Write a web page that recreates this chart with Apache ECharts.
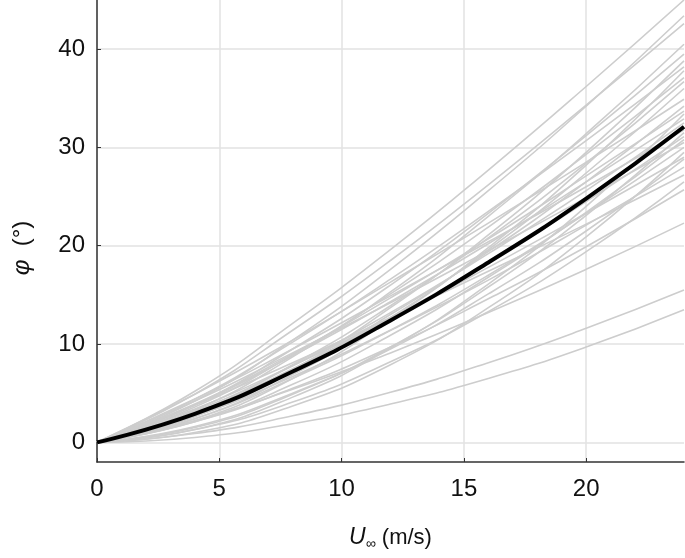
<!DOCTYPE html>
<html>
<head>
<meta charset="utf-8">
<script src="https://cdn.jsdelivr.net/npm/echarts@6/dist/echarts.min.js"></script>
<style>html,body{margin:0;padding:0;background:#fff}#c{width:685px;height:558px}</style>
</head>
<body>
<div id="c"></div>
<script>
// sample wind speeds (m/s)
const xs = [0, 4, 8, 12, 16, 20, 24];
// individual (grey) curves, phi in degrees at xs
const grey01 = [0, 5.2, 12.1, 19.6, 27.7, 36.2, 45.0];
const grey02 = [0, 4.2, 10.4, 17.6, 25.6, 34.2, 43.4];
const grey03 = [0, 4.9, 11.4, 18.5, 26.2, 34.3, 42.6];
const grey04 = [0, 3.3, 8.7, 15.3, 23.0, 31.4, 40.5];
const grey05 = [0, 3.8, 9.5, 16.0, 23.3, 31.2, 39.5];
const grey06 = [0, 2.6, 7.4, 13.7, 21.1, 29.5, 38.8];
const grey07 = [0, 4.4, 10.2, 16.6, 23.5, 30.7, 38.2];
const grey08 = [0, 2.2, 6.5, 12.5, 19.8, 28.2, 37.8];
const grey09 = [0, 3.6, 8.9, 15.1, 21.9, 29.3, 37.1];
const grey10 = [0, 3.0, 7.9, 13.9, 20.8, 28.4, 36.7];
const grey11 = [0, 2.4, 6.9, 12.7, 19.6, 27.4, 36.0];
const grey12 = [0, 4.9, 10.4, 16.3, 22.3, 28.5, 34.9];
const grey13 = [0, 2.8, 7.4, 13.0, 19.4, 26.5, 34.2];
const grey14 = [0, 3.9, 9.0, 14.7, 20.7, 27.1, 33.7];
const grey15 = [0, 1.3, 4.6, 9.6, 16.1, 24.0, 33.4];
const grey16 = [0, 3.8, 8.8, 14.3, 20.2, 26.5, 32.9];
const grey17 = [0, 3.2, 7.8, 13.2, 19.2, 25.6, 32.5];
const grey18 = [0, 4.4, 9.5, 14.9, 20.4, 26.0, 31.8];
const grey19 = [0, 1.5, 4.9, 9.7, 15.8, 23.1, 31.5];
const grey20 = [0, 3.0, 7.5, 12.6, 18.3, 24.5, 31.1];
const grey21 = [0, 2.1, 5.9, 10.9, 16.8, 23.4, 30.8];
const grey22 = [0, 4.2, 9.1, 14.2, 19.5, 24.9, 30.5];
const grey23 = [0, 2.4, 6.5, 11.4, 17.0, 23.3, 30.0];
const grey24 = [0, 1.0, 3.7, 7.9, 13.7, 20.9, 29.5];
const grey25 = [0, 3.4, 7.8, 12.6, 17.8, 23.3, 29.0];
const grey26 = [0, 1.6, 5.0, 9.5, 15.1, 21.5, 28.8];
const grey27 = [0, 2.7, 6.7, 11.4, 16.5, 22.1, 28.0];
const grey28 = [0, 3.8, 8.1, 12.7, 17.4, 22.2, 27.2];
const grey29 = [0, 1.3, 4.1, 8.2, 13.3, 19.4, 26.5];
const grey30 = [0, 2.1, 5.5, 9.7, 14.6, 19.9, 25.7];
const grey31 = [0, 2.2, 5.4, 9.1, 13.2, 17.6, 22.3];
const grey32 = [0, 0.9, 2.7, 5.1, 8.1, 11.6, 15.5];
const grey33 = [0, 0.5, 1.9, 3.9, 6.5, 9.7, 13.5];
// mean (black) curve
const meanCurve = [0, 2.9, 7.2, 12.4, 18.3, 24.8, 32.1];
// tick labels
const xTicks = [0, 5, 10, 15, 20];
const yTicks = [0, 10, 20, 30, 40];

const greyCurves = [grey01, grey02, grey03, grey04, grey05, grey06, grey07, grey08, grey09, grey10,
  grey11, grey12, grey13, grey14, grey15, grey16, grey17, grey18, grey19, grey20,
  grey21, grey22, grey23, grey24, grey25, grey26, grey27, grey28, grey29, grey30,
  grey31, grey32, grey33];

const pairs = arr => arr.map((v, i) => [xs[i], v]);
const series = greyCurves.map(c => ({
  type: 'line', data: pairs(c), smooth: true, symbol: 'none', silent: true,
  lineStyle: { color: '#cdcdcd', width: 1.6 }, z: 2
}));
series.push({
  type: 'line', data: pairs(meanCurve), smooth: true, symbol: 'none', silent: true,
  lineStyle: { color: '#000', width: 4 }, z: 5
});

const font = 'Liberation Sans, Arial, Helvetica, sans-serif';
const chart = echarts.init(document.getElementById('c'), null, { renderer: 'canvas' });
chart.setOption({
  animation: false,
  backgroundColor: '#fff',
  grid: { left: 97, right: 1, top: 0, bottom: 96, containLabel: false },
  xAxis: {
    type: 'value', min: 0, max: 24,
    axisLine: { show: true, onZero: false, lineStyle: { color: '#333', width: 1.5 } },
    axisTick: { show: true, inside: true, length: 4, customValues: xTicks, lineStyle: { color: '#333' } },
    axisLabel: { customValues: xTicks, fontSize: 24, color: '#111', fontFamily: font, margin: 15 },
    splitLine: { show: true, lineStyle: { color: '#e2e2e2', width: 1.5 } },
    name: '{i|U}{s|∞} (m/s)', nameLocation: 'middle', nameGap: 63,
    nameTextStyle: {
      fontSize: 22, color: '#111', fontFamily: font,
      rich: {
        i: { fontStyle: 'italic', fontSize: 23, fontFamily: font, color: '#111' },
        s: { fontSize: 14, fontFamily: font, color: '#111', verticalAlign: 'bottom', padding: [12, 0, 0, 0] }
      }
    }
  },
  yAxis: {
    type: 'value', min: -2, max: 45,
    axisLine: { show: true, onZero: false, lineStyle: { color: '#333', width: 1.5 } },
    axisTick: { show: true, inside: true, length: 4, customValues: yTicks, lineStyle: { color: '#333' } },
    axisLabel: { customValues: yTicks, fontSize: 24, color: '#111', fontFamily: font, margin: 12 },
    splitLine: { show: true, lineStyle: { color: '#e2e2e2', width: 1.5 } },
    name: '{i|φ}  (°)', nameLocation: 'middle', nameGap: 63, nameRotate: 90,
    nameTextStyle: {
      fontSize: 24, color: '#111', fontFamily: font, padding: [0, 34, 0, 0],
      rich: { i: { fontStyle: 'italic', fontSize: 24, fontFamily: font, color: '#111' } }
    }
  },
  series: series
});
</script>
</body>
</html>
